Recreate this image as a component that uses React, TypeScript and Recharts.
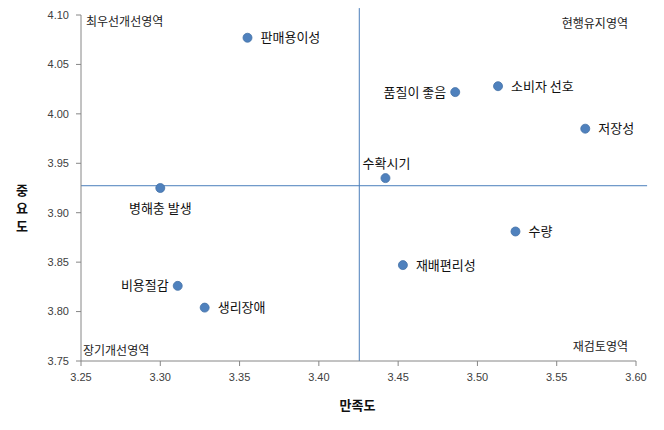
import React from 'react'
import { ReferenceArea, ReferenceLine, Scatter, ScatterChart, XAxis, YAxis, ZAxis } from 'recharts'

const attributes = ['판매용이성', '병해충 발생', '품질이 좋음', '소비자 선호', '저장성', '수확시기', '수량', '재배편리성', '비용절감', '생리장애']
const satisfaction = [3.355, 3.300, 3.486, 3.513, 3.568, 3.442, 3.524, 3.453, 3.311, 3.328]
const importance = [4.077, 3.925, 4.022, 4.028, 3.985, 3.935, 3.881, 3.847, 3.826, 3.804]

const xTicks = [3.25, 3.3, 3.35, 3.4, 3.45, 3.5, 3.55, 3.6]
const yTicks = [3.75, 3.8, 3.85, 3.9, 3.95, 4.0, 4.05, 4.1]

// mean lines splitting the quadrants
const meanSatisfaction = 3.4255
const meanImportance = 3.9273

const quadrants = ['최우선개선영역', '현행유지영역', '장기개선영역', '재검토영역']

const data = attributes.map((name, i) => ({ name, x: satisfaction[i], y: importance[i] }))

// where each point's label sits
const placement: Record<string, 'left' | 'right' | 'above' | 'below'> = {
    '판매용이성': 'right',
    '병해충 발생': 'below',
    '품질이 좋음': 'left',
    '소비자 선호': 'right',
    '저장성': 'right',
    '수확시기': 'above',
    '수량': 'right',
    '재배편리성': 'right',
    '비용절감': 'left',
    '생리장애': 'right',
}

const korean = '"Noto Sans CJK KR", "Noto Sans", sans-serif'
const tickStyle = { fill: '#404040', fontSize: 11, fontFamily: '"Liberation Sans", Arial, sans-serif' }

const PointShape = (props: any) => {
    const { cx, cy, payload } = props
    const where = placement[payload.name] || 'right'
    let tx = cx + 13
    let ty = cy
    let anchor: 'start' | 'end' | 'middle' = 'start'
    if (where === 'left') { tx = cx - 9; anchor = 'end' }
    if (where === 'above') { tx = cx + 1; ty = cy - 15; anchor = 'middle' }
    if (where === 'below') { tx = cx; ty = cy + 20; anchor = 'middle' }
    return (
        <g>
            <circle cx={cx} cy={cy} r={4.5} fill='#4f81bd' stroke='#4572a7' strokeWidth={0.8} />
            <text x={tx} y={ty} dy='0.35em' textAnchor={anchor} fontSize={13} fontFamily={korean} fill='#111'>
                {payload.name}
            </text>
        </g>
    )
}

const quadrantLabel = (text: string, corner: string) => (props: any) => {
    const { x, y, width, height } = props.viewBox
    let tx = x + 5
    let ty = y + 7
    let anchor: 'start' | 'end' = 'start'
    if (corner === 'tr') { tx = x + width - 8; ty = y + 9; anchor = 'end' }
    if (corner === 'bl') { tx = x + 2; ty = y + height - 10 }
    if (corner === 'br') { tx = x + width - 8; ty = y + height - 14; anchor = 'end' }
    return (
        <text x={tx} y={ty} dy='0.35em' textAnchor={anchor} fontSize={12} fontFamily={korean} fill='#222'>
            {text}
        </text>
    )
}

const XTitle = (props: any) => {
    const { x, y, width } = props.viewBox
    return (
        <text x={x + width / 2 - 1} y={y + 44} dy='0.35em' textAnchor='middle' fontSize={13} fontWeight='bold' fontFamily={korean} fill='#111'>
            만족도
        </text>
    )
}

const YTitle = (props: any) => {
    const { x, y, height } = props.viewBox
    const cy = y + height / 2
    return (
        <text x={x + 22} y={cy} textAnchor='middle' fontSize={13} fontWeight='bold' fontFamily={korean} fill='#111'>
            <tspan x={x + 22} dy='0.5em'>중</tspan>
            <tspan x={x + 22} dy='1.42em'>요</tspan>
            <tspan x={x + 22} dy='1.42em'>도</tspan>
        </text>
    )
}

export default function App() {
    return (
        <div style={{ position: 'absolute', left: 0, top: 0, width: 664, height: 430, background: '#fff' }}>
            <ScatterChart width={664} height={430} margin={{ top: 15, right: 28, left: 0, bottom: 0 }}>
                <XAxis
                    type='number'
                    dataKey='x'
                    domain={[3.25, 3.6]}
                    ticks={xTicks}
                    tickFormatter={(v: number) => v.toFixed(2)}
                    height={69}
                    stroke='#868686'
                    tickSize={5}
                    tickMargin={7}
                    tick={tickStyle}
                    label={<XTitle />}
                />
                <YAxis
                    type='number'
                    dataKey='y'
                    domain={[3.75, 4.1]}
                    ticks={yTicks}
                    tickFormatter={(v: number) => v.toFixed(2)}
                    width={81}
                    stroke='#868686'
                    tickSize={5}
                    tickMargin={7}
                    tick={tickStyle}
                    label={<YTitle />}
                />
                <ZAxis range={[64, 64]} />
                <ReferenceArea x1={3.25} x2={meanSatisfaction} y1={meanImportance} y2={4.1} fillOpacity={0} label={quadrantLabel(quadrants[0], 'tl')} />
                <ReferenceArea x1={meanSatisfaction} x2={3.6} y1={meanImportance} y2={4.1} fillOpacity={0} label={quadrantLabel(quadrants[1], 'tr')} />
                <ReferenceArea x1={3.25} x2={meanSatisfaction} y1={3.75} y2={meanImportance} fillOpacity={0} label={quadrantLabel(quadrants[2], 'bl')} />
                <ReferenceArea x1={meanSatisfaction} x2={3.6} y1={3.75} y2={meanImportance} fillOpacity={0} label={quadrantLabel(quadrants[3], 'br')} />
                <ReferenceLine
                    segment={[{ x: meanSatisfaction, y: 3.75 }, { x: meanSatisfaction, y: 4.107 }]}
                    stroke='#4a7ebb'
                    strokeWidth={1}
                    ifOverflow='visible'
                />
                <ReferenceLine
                    segment={[{ x: 3.25, y: meanImportance }, { x: 3.607, y: meanImportance }]}
                    stroke='#4a7ebb'
                    strokeWidth={1}
                    ifOverflow='visible'
                />
                <Scatter data={data} shape={PointShape} isAnimationActive={false} />
            </ScatterChart>
        </div>
    )
}
